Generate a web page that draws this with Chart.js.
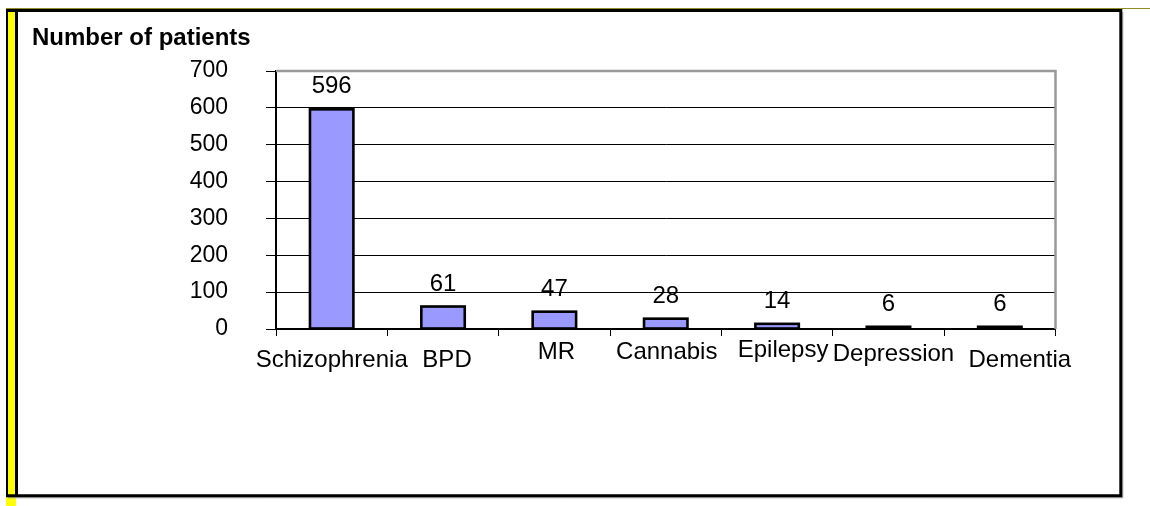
<!DOCTYPE html>
<html>
<head>
<meta charset="utf-8">
<script src="https://cdn.jsdelivr.net/npm/chart.js@4.4.1/dist/chart.umd.min.js"></script>
<style>
  html, body { margin: 0; padding: 0; background: #fff; }
  canvas { display: block; }
</style>
</head>
<body>
<canvas id="patients" width="1150" height="506"></canvas>
<script>
const diagnoses = ["Schizophrenia", "BPD", "MR", "Cannabis", "Epilepsy", "Depression", "Dementia"];
const patients = [596, 61, 47, 28, 14, 6, 6];
const yTicks = [0, 100, 200, 300, 400, 500, 600, 700];
const axisTitle = "Number of patients";

// category names sit a little unevenly: [dx from bar centre, baseline below axis]
const labelNudge = [[0, 38], [4, 38], [2, 30], [1, 30], [6, 28], [5, 32], [20, 38]];

const FONT = '"Liberation Sans", Arial, sans-serif';

// outer frame with the yellow strip down the left side
const framePlugin = {
  id: "frame",
  beforeDraw(chart) {
    const ctx = chart.ctx;
    ctx.save();
    ctx.fillStyle = "#fff";
    ctx.fillRect(0, 0, chart.width, chart.height);

    ctx.fillStyle = "#ffff00";
    ctx.fillRect(6, 10, 10, 496);
    ctx.strokeStyle = "#000";
    ctx.lineWidth = 2;
    ctx.beginPath();
    ctx.moveTo(7, 10);
    ctx.lineTo(7, 496);
    ctx.stroke();

    // olive edge along the very top
    ctx.strokeStyle = "#8f8f20";
    ctx.lineWidth = 1;
    ctx.beginPath();
    ctx.moveTo(6, 8.5);
    ctx.lineTo(1150, 8.5);
    ctx.stroke();

    // soft shadow then the black box
    ctx.strokeStyle = "#a0a0a0";
    ctx.lineWidth = 1;
    ctx.beginPath();
    ctx.moveTo(8, 497.8);
    ctx.lineTo(1122.8, 497.8);
    ctx.lineTo(1122.8, 12);
    ctx.stroke();

    ctx.strokeStyle = "#000";
    ctx.lineWidth = 3;
    ctx.beginPath();
    ctx.moveTo(6, 10.5);
    ctx.lineTo(1120.8, 10.5);
    ctx.lineTo(1120.8, 495.8);
    ctx.lineTo(6, 495.8);
    ctx.moveTo(16.5, 10.5);
    ctx.lineTo(16.5, 495.8);
    ctx.stroke();
    ctx.restore();
  }
};

// bar outlines straddle the bar edges, so even the 6-patient bars show
const outlinePlugin = {
  id: "outline",
  afterDatasetsDraw(chart) {
    const ctx = chart.ctx;
    ctx.save();
    ctx.strokeStyle = "#000";
    ctx.lineWidth = 2.6;
    chart.getDatasetMeta(0).data.forEach(bar => {
      ctx.strokeRect(bar.x - bar.width / 2, bar.y, bar.width, bar.base - bar.y);
    });
    ctx.restore();
  }
};

// plot border, value labels, category names and the axis title
const labelsPlugin = {
  id: "labels",
  afterDraw(chart) {
    const ctx = chart.ctx;
    const area = chart.chartArea;
    const x = chart.scales.x;
    const y = chart.scales.y;
    ctx.save();

    ctx.strokeStyle = "#999";
    ctx.lineWidth = 2.5;
    ctx.beginPath();
    ctx.moveTo(area.left, area.top);
    ctx.lineTo(area.right, area.top);
    ctx.lineTo(area.right, area.bottom);
    ctx.stroke();

    ctx.fillStyle = "#000";
    ctx.textAlign = "center";
    ctx.textBaseline = "alphabetic";
    ctx.font = "24px " + FONT;
    chart.getDatasetMeta(0).data.forEach((bar, i) => {
      ctx.fillText(String(patients[i]), bar.x, y.getPixelForValue(patients[i]) - 16);
    });

    diagnoses.forEach((name, i) => {
      const [dx, dy] = labelNudge[i];
      ctx.fillText(name, x.getPixelForValue(i) + dx, area.bottom + dy);
    });

    ctx.textAlign = "left";
    ctx.font = "bold 24px " + FONT;
    ctx.fillText(axisTitle, 32, 45);
    ctx.restore();
  }
};

new Chart(document.getElementById("patients"), {
  type: "bar",
  data: {
    labels: diagnoses,
    datasets: [{
      data: patients,
      backgroundColor: "#9999ff",
      borderWidth: 0,
      barPercentage: 0.39,
      categoryPercentage: 1
    }]
  },
  options: {
    responsive: false,
    animation: false,
    layout: { padding: { left: 0, top: 71, right: 94.5, bottom: 0 } },
    plugins: {
      legend: { display: false },
      tooltip: { enabled: false }
    },
    scales: {
      x: {
        ticks: { display: false },
        grid: {
          offset: true,
          drawOnChartArea: false,
          drawTicks: true,
          tickLength: 7,
          color: "#000",
          lineWidth: 1
        },
        border: { color: "#000", width: 1.5 },
        afterFit(scale) { scale.height = 177; }
      },
      y: {
        min: yTicks[0],
        max: yTicks[yTicks.length - 1],
        ticks: {
          stepSize: yTicks[1] - yTicks[0],
          color: "#000",
          padding: 38,
          font: { family: FONT, size: 23 }
        },
        grid: {
          color: "#000",
          lineWidth: 1,
          tickLength: 10
        },
        border: { color: "#000", width: 2 },
        afterFit(scale) { scale.width = 276; }
      }
    }
  },
  plugins: [framePlugin, outlinePlugin, labelsPlugin]
});
</script>
</body>
</html>
